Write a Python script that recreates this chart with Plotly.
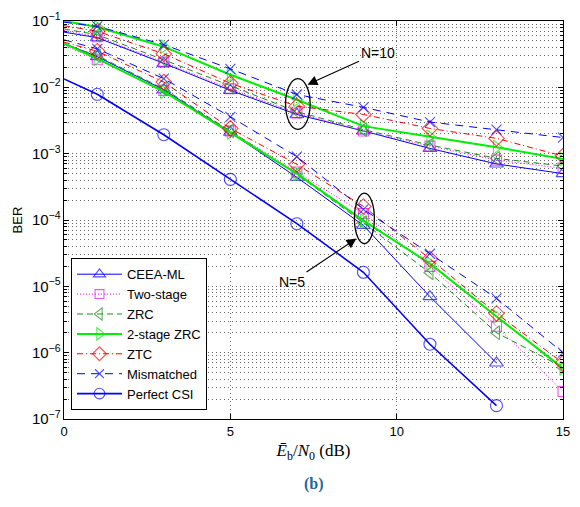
import plotly.graph_objects as go

# ---------------- data ----------------
snr = [0, 1, 3, 5, 7, 9, 11, 13, 15]

# N = 10 group
ceea_10 = [6.8e-2, 5.6e-2, 2.3e-2, 9.0e-3, 3.9e-3, 2.2e-3, 1.2e-3, 7.0e-4, 5.0e-4]
two_stage_10 = [7.2e-2, 5.8e-2, 2.4e-2, 9.5e-3, 4.1e-3, 2.2e-3, 1.3e-3, 8.0e-4, 6.0e-4]
zrc_10 = [7.6e-2, 6.2e-2, 2.6e-2, 1.05e-2, 4.3e-3, 2.3e-3, 1.35e-3, 8.5e-4, 6.5e-4]
zrc2_10 = [1.0e-1, 8.1e-2, 4.1e-2, 1.55e-2, 6.5e-3, 2.6e-3, 1.8e-3, 1.25e-3, 8.3e-4]
ztc_10 = [8.5e-2, 7.0e-2, 3.2e-2, 1.15e-2, 5.2e-3, 3.9e-3, 2.4e-3, 1.7e-3, 9.2e-4]
mism_10 = [9.6e-2, 8.3e-2, 4.4e-2, 1.9e-2, 7.8e-3, 5.0e-3, 3.0e-3, 2.3e-3, 1.75e-3]

# N = 5 group
ceea_5 = [4.6e-2, 2.9e-2, 9.2e-3, 2.1e-3, 4.4e-4, 8.3e-5, 7.0e-6, 7.0e-7, None]
two_stage_5 = [4.3e-2, 2.6e-2, 9.0e-3, 2.2e-3, 5.3e-4, 1.25e-4, 2.0e-5, 2.5e-6, 2.6e-7]
zrc_5 = [4.5e-2, 3.0e-2, 9.5e-3, 2.2e-3, 4.9e-4, 9.1e-5, 1.6e-5, 2.0e-6, 6.0e-7]
zrc2_5 = [4.6e-2, 2.7e-2, 8.6e-3, 2.1e-3, 5.0e-4, 9.8e-5, 2.2e-5, 3.5e-6, 5.8e-7]
ztc_5 = [4.8e-2, 3.5e-2, 1.2e-2, 2.4e-3, 6.9e-4, 1.6e-4, 2.6e-5, 3.9e-6, 7.0e-7]
mism_5 = [5.2e-2, 3.8e-2, 1.35e-2, 3.6e-3, 9.0e-4, 1.45e-4, 3.1e-5, 6.6e-6, 1.0e-6]

perfect = [1.34e-2, 7.85e-3, 1.93e-3, 4.1e-4, 8.8e-5, 1.63e-5, 1.34e-6, 1.59e-7, None]

series_names = ["CEEA-ML", "Two-stage", "ZRC", "2-stage ZRC", "ZTC", "Mismatched", "Perfect CSI"]
x_ticks = [0, 5, 10, 15]

# ---------------- styles ----------------
styles = {
    "CEEA-ML": dict(color="#0000ff", dash="solid", width=1, symbol="triangle-up-open", size=12),
    "Two-stage": dict(color="#ff00ff", dash="1px,2px", width=1, symbol="square-open", size=10),
    "ZRC": dict(color="#1e8c1e", dash="6px,4px", width=1, symbol="triangle-left-open", size=12),
    "2-stage ZRC": dict(color="#00ee00", dash="solid", width=2, symbol="triangle-right-open", size=12),
    "ZTC": dict(color="#ff0000", dash="6px,3px,1px,3px", width=1, symbol="diamond-open", size=12),
    "Mismatched": dict(color="#0000ff", dash="8px,6px", width=1, symbol="x-thin-open", size=10),
    "Perfect CSI": dict(color="#0000ff", dash="solid", width=1.6, symbol="circle-open", size=12),
}

data_map = {
    "CEEA-ML": [ceea_10, ceea_5],
    "Two-stage": [two_stage_10, two_stage_5],
    "ZRC": [zrc_10, zrc_5],
    "2-stage ZRC": [zrc2_10, zrc2_5],
    "ZTC": [ztc_10, ztc_5],
    "Mismatched": [mism_10, mism_5],
    "Perfect CSI": [perfect],
}

fig = go.Figure()
for name in series_names:
    st = styles[name]
    sizes = [0] + [st["size"]] * (len(snr) - 1)
    for k, ys in enumerate(data_map[name]):
        fig.add_trace(go.Scatter(
            x=snr, y=ys, mode="lines+markers", name=name,
            legendgroup=name, showlegend=(k == 0),
            line=dict(color=st["color"], dash=st["dash"], width=st["width"]),
            marker=dict(symbol=st["symbol"], size=sizes, color=st["color"],
                        line=dict(color=st["color"], width=1.1)),
            connectgaps=False,
        ))

grid_col = "#666666"
fig.update_xaxes(
    range=[0, 15], tickvals=x_ticks, ticks="inside", ticklen=5, tickcolor="black",
    showgrid=True, gridcolor=grid_col, griddash="1px,3px", gridwidth=1,
    showline=True, linecolor="black", linewidth=1, mirror="ticks",
    zeroline=False, tickfont=dict(family="Liberation Sans", size=13, color="black"),
    title=dict(text="<i>E\u0304</i><sub>b</sub>/<i>N</i><sub>0</sub> (dB)",
               font=dict(family="Liberation Serif", size=17, color="black"), standoff=6),
)
fig.update_yaxes(
    type="log", range=[-7, -1], dtick=1, exponentformat="power",
    ticks="inside", ticklen=5, tickcolor="black",
    showgrid=True, gridcolor=grid_col, griddash="1px,3px", gridwidth=1,
    minor=dict(ticks="inside", ticklen=3, tickcolor="black", showgrid=True,
               gridcolor=grid_col, griddash="1px,3px", gridwidth=1, dtick="D1"),
    showline=True, linecolor="black", linewidth=1, mirror="ticks",
    zeroline=False, tickfont=dict(family="Liberation Sans", size=12, color="black"),
    title=dict(text="BER", font=dict(family="Liberation Sans", size=13, color="black"), standoff=6),
)


def ydom(logv):
    # fraction of the y domain for a log10 value in range [-7, -1]
    return (logv + 7.0) / 6.0


# ellipses marking the two groups
fig.add_shape(type="circle", xref="x", yref="y domain", x0=6.66, x1=7.40,
              y0=ydom(-2.634), y1=ydom(-1.87), line=dict(color="black", width=1.3))
fig.add_shape(type="circle", xref="x", yref="y domain", x0=8.73, x1=9.33,
              y0=ydom(-4.358), y1=ydom(-3.594), line=dict(color="black", width=1.3))

fig.add_annotation(x=7.32, y=-1.96, xref="x", yref="y", text="N=10", showarrow=True,
                   ax=70, ay=-32, arrowhead=2, arrowsize=1.8, arrowwidth=1.1, arrowcolor="black",
                   font=dict(family="Liberation Sans", size=14, color="black"))
fig.add_annotation(x=8.79, y=-4.28, xref="x", yref="y", text="N=5", showarrow=True,
                   ax=-64, ay=43, arrowhead=2, arrowsize=1.8, arrowwidth=1.1, arrowcolor="black",
                   font=dict(family="Liberation Sans", size=14, color="black"))

fig.add_annotation(x=0.5, y=-0.19, xref="paper", yref="paper", text="<b>(b)</b>", showarrow=False,
                   font=dict(family="Liberation Serif", size=16, color="#1f6aa5"))

fig.update_layout(
    width=580, height=507,
    margin=dict(l=64, r=10, t=19, b=88),
    paper_bgcolor="white", plot_bgcolor="white",
    showlegend=True,
    legend=dict(x=0.014, y=0.022, xanchor="left", yanchor="bottom",
                bgcolor="white", bordercolor="black", borderwidth=1,
                font=dict(family="Liberation Sans", size=13, color="black"),
                tracegroupgap=0, itemwidth=45),
)

fig.write_html("out.html", config={"displayModeBar": False})

# remove the default page margin so the figure sits at the window origin
with open("out.html", "r", encoding="utf-8") as f:
    html = f.read()
html = html.replace("<head>", "<head><style>html,body{margin:0;padding:0;overflow:hidden;}</style>", 1)
with open("out.html", "w", encoding="utf-8") as f:
    f.write(html)
